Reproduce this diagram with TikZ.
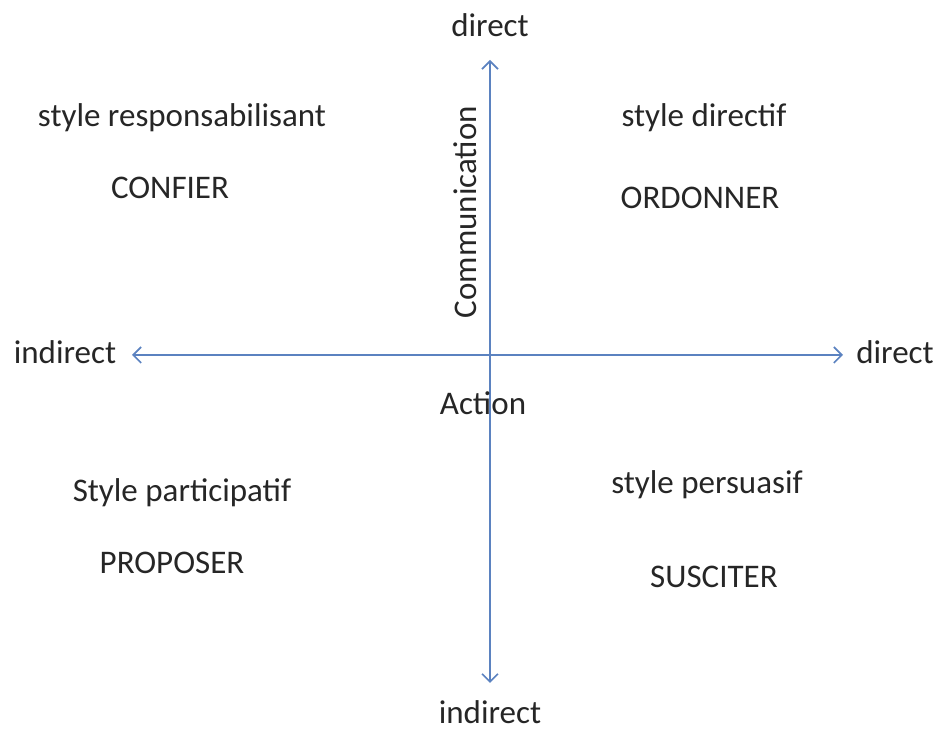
\documentclass[tikz,border=0pt]{standalone}
\usepackage{fontspec}
\setmainfont{Carlito}
\usetikzlibrary{arrows.meta}
\definecolor{axisblue}{HTML}{5B82C0}
\definecolor{txtgray}{HTML}{262626}

\begin{document}
\begin{tikzpicture}[x=0.5pt, y=-0.5pt,
lbl/.style = {% quadrant and axis labels
inner sep=0pt, text=txtgray, font=\fontsize{16.5}{20}\selectfont},
AX/.style = {% axis arrow
draw=axisblue, line width=0.8pt, -{Straight Barb[length=4pt, width=8pt]}}]
\useasboundingbox (0,0) rectangle (939,731);
% axis ends
\coordinate (O)  at (490,355);
\coordinate (N)  at (490,60);
\coordinate (S)  at (490,683);
\coordinate (W)  at (132,355);
\coordinate (E)  at (843,355);
\draw[AX] (O) -- (N);
\draw[AX] (O) -- (S);
\draw[AX] (O) -- (W);
\draw[AX] (O) -- (E);
% axis labels
\node[lbl] (dirN)   at (490,25)  {direct};
\node[lbl] (indS)   at (490,712) {indirect};
\node[lbl] (indW)   at (65,352)  {indirect};
\node[lbl] (dirE)   at (895,352) {direct};
\node[lbl, rotate=90] (comm) at (465,212) {Communication};
\node[lbl] (action) at (483,403) {Action};
% quadrants
\node[lbl] (resp)  at (182,118) {style responsabilisant};
\node[lbl] (conf)  at (170,188) {CONFIER};
\node[lbl] (dirf)  at (704,118) {style directif};
\node[lbl] (ordo)  at (700,198) {ORDONNER};
\node[lbl] (part)  at (182,493) {Style participatif};
\node[lbl] (prop)  at (172,563) {PROPOSER};
\node[lbl] (pers)  at (707,485) {style persuasif};
\node[lbl] (susc)  at (714,577) {SUSCITER};
\end{tikzpicture}
\end{document}
